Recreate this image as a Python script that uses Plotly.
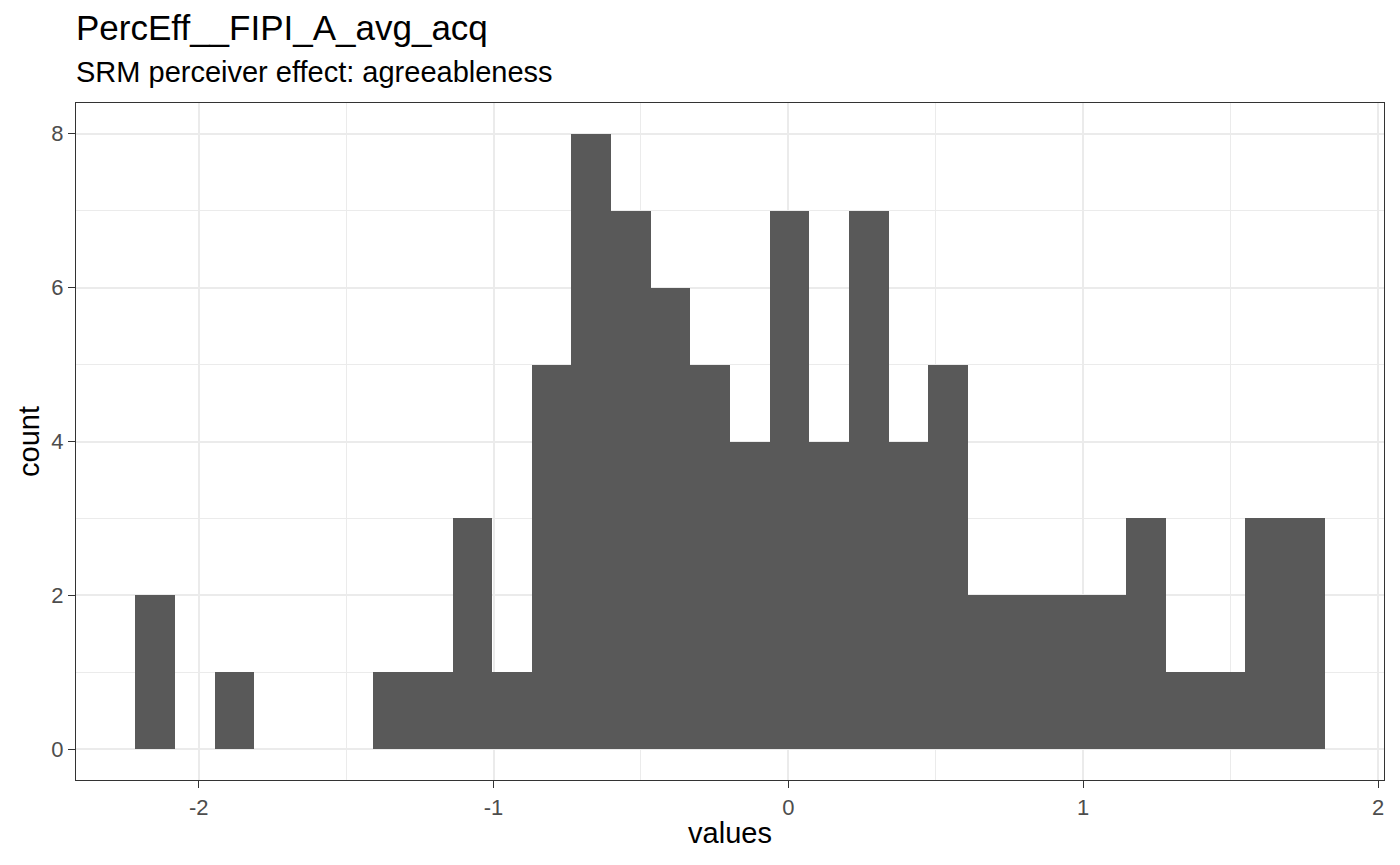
import plotly.graph_objects as go

# Histogram data (30 bins)
counts = [2, 0, 1, 0, 0, 0, 1, 1, 3, 1, 5, 8, 7, 6, 5, 4, 7, 4, 7, 4, 5, 2, 2, 2, 2, 3, 1, 1, 3, 3]
bin_start = -2.2147
bin_width = 0.13444

x_ticks = [-2, -1, 0, 1, 2]
x_minor = [-1.5, -0.5, 0.5, 1.5]
y_ticks = [0, 2, 4, 6, 8]
y_minor = [1, 3, 5, 7]

title_text = "PercEff__FIPI_A_avg_acq"
subtitle_text = "SRM perceiver effect: agreeableness"

centers = [bin_start + bin_width * (i + 0.5) for i in range(len(counts))]
data_lo = bin_start
data_hi = bin_start + bin_width * len(counts)
pad = (data_hi - data_lo) * 0.05
ymax = max(counts)

FONT = "Liberation Sans, Arial, sans-serif"

fig = go.Figure(go.Bar(
    x=centers, y=counts, width=[bin_width] * len(counts),
    marker=dict(color="#595959", line=dict(width=0)),
    hoverinfo="x+y",
))

grid = "#EBEBEB"
axis_common = dict(
    showline=True, mirror=True, linecolor="#333333", linewidth=1.3,
    ticks="outside", ticklen=7, tickwidth=1.3, tickcolor="#333333",
    showgrid=True, gridcolor=grid, gridwidth=2.2,
    zeroline=False,
    tickfont=dict(family=FONT, size=22, color="#4D4D4D"),
)

fig.update_layout(
    width=1400, height=865,
    margin=dict(l=76, r=16, t=103, b=85),
    plot_bgcolor="white", paper_bgcolor="white",
    bargap=0, showlegend=False,
    font=dict(family=FONT, color="black"),
    title=dict(text=title_text, x=76 / 1400, xanchor="left", xref="container",
               y=1 - 28 / 865, yanchor="middle", yref="container",
               font=dict(family=FONT, size=35, color="black")),
    annotations=[dict(text=subtitle_text, xref="paper", yref="paper",
                      x=0, xanchor="left", y=(780 - 72) / 677, yanchor="middle",
                      xshift=-2, showarrow=False,
                      font=dict(family=FONT, size=29, color="black"))],
)

fig.update_xaxes(
    range=[data_lo - pad, data_hi + pad],
    tickvals=x_ticks, ticktext=[str(v) for v in x_ticks],
    minor=dict(tickvals=x_minor, showgrid=True, gridcolor=grid, gridwidth=1.1, ticks=""),
    title=dict(text="values", font=dict(family=FONT, size=29, color="black"), standoff=4),
    **axis_common,
)
fig.update_yaxes(
    range=[-0.05 * ymax, ymax * 1.05],
    tickvals=y_ticks, ticktext=[str(v) for v in y_ticks],
    minor=dict(tickvals=y_minor, showgrid=True, gridcolor=grid, gridwidth=1.1, ticks=""),
    title=dict(text="count", font=dict(family=FONT, size=29, color="black"), standoff=3),
    **axis_common,
)

fig.write_html("out.html")
